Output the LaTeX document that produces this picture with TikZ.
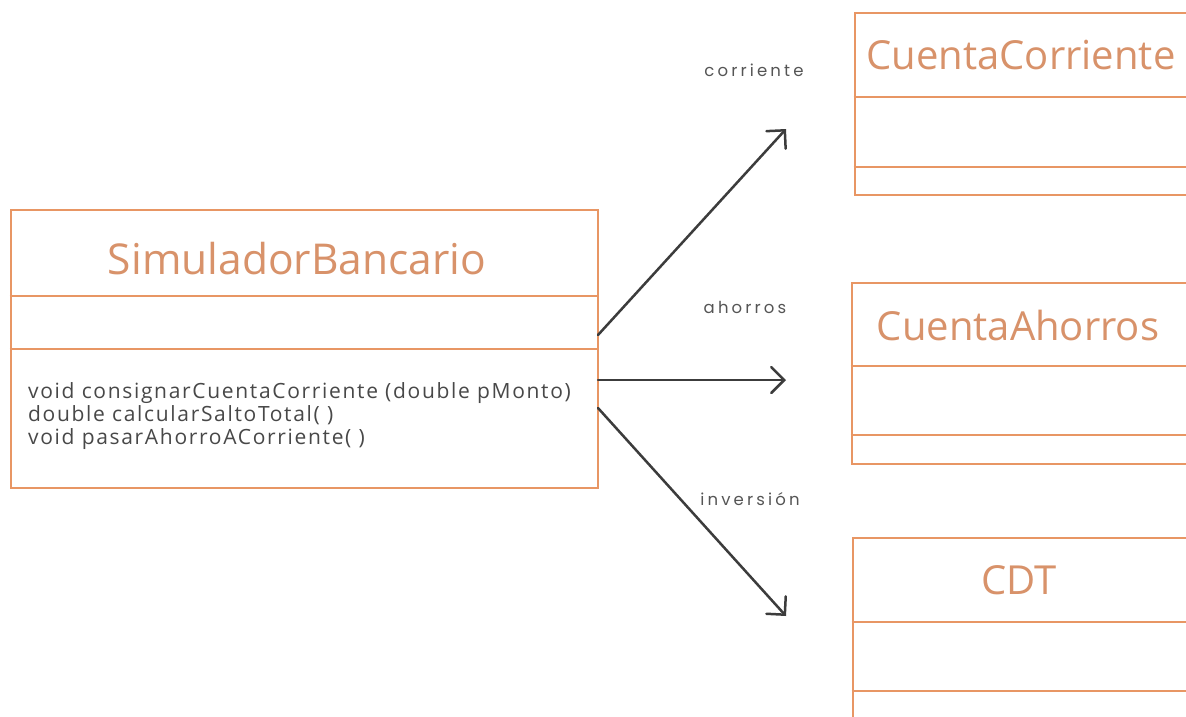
\documentclass[tikz,border=0pt]{standalone}
\usepackage{fontspec}
\setmainfont{Open Sans}
\newfontfamily\labelfont[LetterSpace=19]{Poppins}
\newfontfamily\methodfont[LetterSpace=8]{Open Sans}
\usetikzlibrary{arrows.meta}
\definecolor{boxc}{RGB}{232,150,100}
\definecolor{titlec}{RGB}{216,146,106}
\definecolor{methc}{RGB}{72,72,72}
\definecolor{arrc}{RGB}{60,60,60}
\definecolor{labc}{RGB}{85,85,85}
\tikzset{
  umlbox/.style={draw=boxc, line width=2.6pt, rectangle, inner sep=0pt, fill=white},
  divider/.style={draw=boxc, line width=2.6pt},
  umltitle/.style={text=titlec, font=\fontsize{40}{44}\selectfont, inner sep=0pt},
  methods/.style={text=methc, font=\methodfont\fontsize{21}{23}\selectfont, align=left, inner sep=0pt, anchor=west},
  assoc/.style={draw=arrc, line width=2.5pt, line cap=round, -{Straight Barb[length=13pt,width=26pt,line cap=round]}},
  role/.style={text=labc, font=\labelfont\fontsize{16.5}{19}\selectfont, inner sep=0pt}
}
\begin{document}
\begin{tikzpicture}[x=1pt,y=-1pt]
\useasboundingbox (0,0) rectangle (1186,716);
\clip (0,0) rectangle (1186,716);
\fill[white] (0,0) rectangle (1186,716);
% SimuladorBancario
\node[umlbox, minimum width=587pt, minimum height=278pt] (sb) at (304.5,349) {};
\draw[divider] (sb.west |- 0,296) -- (sb.east |- 0,296);
\draw[divider] (sb.west |- 0,349) -- (sb.east |- 0,349);
\node[umltitle, font=\fontsize{42.5}{46}\selectfont] (sbt) at (297,259) {SimuladorBancario};
\node[methods] (sbm) at (28,416) {void consignarCuentaCorriente (double pMonto)\\double calcularSaltoTotal( )\\void pasarAhorroACorriente( )};
% CuentaCorriente
\node[umlbox, minimum width=333pt, minimum height=182pt] (cc) at (1021.5,104) {};
\draw[divider] (cc.west |- 0,97) -- (cc.east |- 0,97);
\draw[divider] (cc.west |- 0,167) -- (cc.east |- 0,167);
\node[umltitle] (cct) at (1021,55) {CuentaCorriente};
% CuentaAhorros
\node[umlbox, minimum width=336pt, minimum height=181pt] (ca) at (1020,373.5) {};
\draw[divider] (ca.west |- 0,366) -- (ca.east |- 0,366);
\draw[divider] (ca.west |- 0,435) -- (ca.east |- 0,435);
\node[umltitle] (cat) at (1018,325) {CuentaAhorros};
% CDT
\node[umlbox, minimum width=335pt, minimum height=222pt] (cdt) at (1020.5,649) {};
\draw[divider] (cdt.west |- 0,622) -- (cdt.east |- 0,622);
\draw[divider] (cdt.west |- 0,691) -- (cdt.east |- 0,691);
\node[umltitle] (cdtt) at (1019,580) {CDT};
% connectors
\coordinate (s1) at (598,335);
\coordinate (e1) at (786,129);
\coordinate (s2) at (598,380);
\coordinate (e2) at (786,380);
\coordinate (s3) at (598,408);
\coordinate (e3) at (786,616);
\draw[assoc] (s1) -- (e1);
\draw[assoc] (s2) -- (e2);
\draw[assoc] (s3) -- (e3);
% role labels
\node[role] (l1) at (754,70) {corriente};
\node[role] (l2) at (745,307) {ahorros};
\node[role] (l3) at (750,499) {inversión};
\end{tikzpicture}
\end{document}
